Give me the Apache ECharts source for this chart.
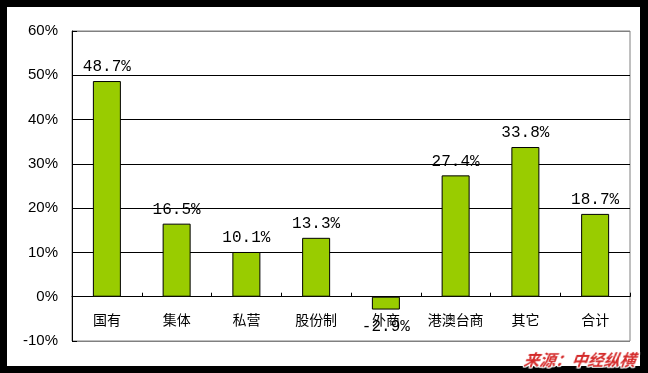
<!DOCTYPE html>
<html>
<head>
<meta charset="utf-8">
<script src="https://cdn.jsdelivr.net/npm/echarts@6/dist/echarts.min.js"></script>
<style>
html,body{margin:0;padding:0;background:#000;}
#frame{position:absolute;left:7px;top:7px;width:633px;height:359px;background:#fff;}
#chart{position:absolute;left:0;top:0;width:648px;height:373px;}
#wm{position:absolute;left:524px;top:349px;font-family:"Noto Sans CJK SC";font-weight:bold;font-style:italic;font-size:16px;color:#d42a2a;line-height:20px;
text-shadow:1px 1px 0 #fff,-1px -1px 0 #fff,1px -1px 0 #fff,-1px 1px 0 #fff,0 1px 0 #fff,1px 0 0 #fff,0 -1px 0 #fff,-1px 0 0 #fff;transform:skewX(-8deg);}
</style>
</head>
<body>
<div id="frame"></div>
<div id="chart"></div>
<div id="wm">来源：中经纵横</div>
<script>
var categories = ['国有','集体','私营','股份制','外商','港澳台商','其它','合计'];
var values = [48.7, 16.5, 10.1, 13.3, -2.9, 27.4, 33.8, 18.7];
var yMin = -10, yMax = 60, yStep = 10;

var gridTop = 31, gridBottom = 32, H = 373;
var plotH = H - gridTop - gridBottom;
var zeroOffset = -(0 - yMin) / (yMax - yMin) * plotH;

var chart = echarts.init(document.getElementById('chart'), null, {renderer:'canvas'});
var data = values.map(function(v){
  var item = {value: v};
  if (v < 0) item.label = {position: 'bottom', distance: 9};
  return item;
});
var splitColors = [];
for (var v = yMin; v <= yMax; v += yStep) {
  splitColors.push((v === yMin || v === yMax) ? '#808080' : '#000000');
}
chart.setOption({
  animation: false,
  backgroundColor: 'transparent',
  grid: {left: 72, right: 18, top: gridTop, bottom: gridBottom, show: true, borderColor: '#808080', borderWidth: 1, backgroundColor: 'transparent'},
  xAxis: {
    type: 'category',
    data: categories,
    offset: zeroOffset,
    axisLine: {onZero: false, lineStyle: {color: '#000', width: 1}},
    axisTick: {show: true, inside: true, length: 4, lineStyle: {color: '#000'}},
    axisLabel: {color: '#000', fontSize: 14, margin: 16, interval: 0, fontFamily: '"Noto Sans CJK SC"'}
  },
  yAxis: {
    type: 'value',
    min: yMin, max: yMax, interval: yStep,
    axisLine: {show: true, lineStyle: {color: '#000', width: 1}},
    axisTick: {show: true, inside: true, length: 5, lineStyle: {color: '#000'}},
    axisLabel: {color: '#000', fontSize: 15, margin: 14, fontFamily: '"Liberation Sans"', formatter: '{value}%'},
    splitLine: {show: true, lineStyle: {color: splitColors, width: 1}}
  },
  series: [{
    type: 'bar',
    data: data,
    barWidth: 28,
    itemStyle: {color: '#99CC00', borderColor: '#000', borderWidth: 1},
    label: {show: true, position: 'top', distance: 6, color: '#000', fontSize: 16, fontFamily: '"Liberation Mono"',
      formatter: function(p){ return p.value.toFixed(1) + '%'; }}
  }]
});
</script>
</body>
</html>
